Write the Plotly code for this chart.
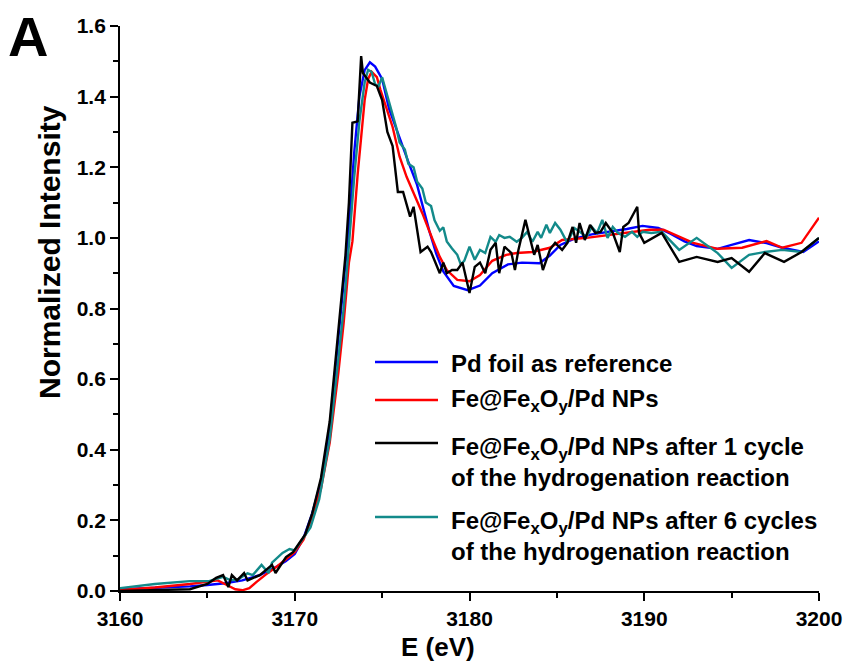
import plotly.graph_objects as go

# ---------------- data ----------------
pd_foil_E = [3160, 3162, 3164, 3165, 3166, 3167, 3168, 3169, 3169.5, 3170, 3170.5, 3171, 3171.5, 3172,
             3172.5, 3172.8, 3173.1, 3173.4, 3173.7, 3174.0, 3174.3, 3174.6, 3175.0, 3175.4, 3176.0,
             3176.5, 3177.0, 3177.3, 3177.7, 3178.1, 3178.5, 3179.1, 3179.9, 3180.6, 3181.3, 3182.2,
             3183.0, 3184.0, 3184.6, 3185.2, 3186.0, 3187.0, 3188.0, 3189.0, 3189.9, 3190.8, 3191.5,
             3192.3, 3193.0, 3194.2, 3195.0, 3196.0, 3197.0, 3197.9, 3199.1, 3200]
pd_foil_I = [0.005, 0.008, 0.013, 0.017, 0.022, 0.030, 0.045, 0.070, 0.085, 0.105, 0.150, 0.220, 0.310, 0.460,
             0.710, 0.860, 1.030, 1.240, 1.400, 1.475, 1.497, 1.485, 1.450, 1.365, 1.280,
             1.215, 1.150, 1.095, 1.020, 0.955, 0.905, 0.864, 0.852, 0.865, 0.900, 0.925,
             0.930, 0.928, 0.950, 0.980, 0.998, 1.010, 1.017, 1.025, 1.034, 1.028, 1.012,
             0.990, 0.977, 0.969, 0.980, 0.994, 0.985, 0.972, 0.960, 0.990]

nps_E = [3160, 3162, 3164, 3165, 3165.6, 3166.2, 3166.6, 3167.0, 3167.4, 3167.8, 3168.3, 3169, 3169.5, 3170,
         3170.5, 3171, 3171.5, 3172, 3172.5, 3172.8, 3173.1, 3173.3, 3173.6, 3173.8, 3174.0, 3174.2,
         3174.4, 3174.7, 3174.9, 3175.6, 3176.0, 3176.4, 3176.8, 3177.3, 3177.9, 3178.3, 3178.7,
         3179.3, 3180.0, 3180.6, 3181.3, 3182.1, 3182.7, 3183.6, 3184.6, 3185.3, 3186.7, 3188.0,
         3189.3, 3190.3, 3191.1, 3192.0, 3192.8, 3194.2, 3195.6, 3197.0, 3197.9, 3199.0, 3200]
nps_I = [0.003, 0.010, 0.020, 0.026, 0.030, 0.015, 0.005, 0.002, 0.008, 0.025, 0.045, 0.070, 0.090, 0.110,
         0.145, 0.210, 0.290, 0.420, 0.620, 0.760, 0.930, 0.990, 1.180, 1.290, 1.390, 1.450,
         1.470, 1.455, 1.420, 1.314, 1.230, 1.173, 1.127, 1.070, 0.994, 0.946, 0.909,
         0.881, 0.877, 0.895, 0.935, 0.952, 0.957, 0.960, 0.972, 0.994, 1.000, 1.008,
         1.017, 1.023, 1.023, 1.003, 0.986, 0.969, 0.972, 0.991, 0.972, 0.986, 1.057]

cyc1_E = [3160, 3162, 3164, 3165, 3165.5, 3165.9, 3166.2, 3166.4, 3166.7, 3167.1, 3167.3, 3168.0, 3168.7,
          3168.9, 3169.5, 3169.9, 3170.2, 3170.6, 3171, 3171.5, 3172, 3172.5, 3172.9, 3173.1, 3173.3,
          3173.6, 3173.8, 3173.9, 3174.3, 3174.7, 3175.0, 3175.3, 3175.6, 3175.9, 3176.2, 3176.6,
          3176.8, 3177.2, 3177.6, 3177.8, 3178.3, 3178.5, 3178.7, 3179.0, 3179.3, 3179.6, 3180.0,
          3180.3, 3180.6, 3180.9, 3181.2, 3181.5, 3181.7, 3182.0, 3182.4, 3182.6, 3182.8, 3183.2,
          3183.5, 3183.7, 3183.9, 3184.2, 3184.6, 3184.9, 3185.3, 3185.6, 3185.9, 3186.1, 3186.3,
          3186.6, 3186.9, 3187.2, 3187.5, 3187.8, 3188.2, 3188.6, 3188.8, 3189.1, 3189.6, 3189.7,
          3190.0, 3190.5, 3191.0, 3192.0, 3193.0, 3194.2, 3195.0, 3196.0, 3196.9, 3198.0, 3199.0, 3200]
cyc1_I = [0.000, 0.002, 0.005, 0.020, 0.037, 0.045, 0.011, 0.045, 0.030, 0.051, 0.030, 0.045, 0.074,
          0.051, 0.096, 0.110, 0.130, 0.160, 0.220, 0.320, 0.480, 0.740, 0.950, 1.100, 1.326,
          1.330, 1.515, 1.467, 1.440, 1.430, 1.390, 1.300, 1.260, 1.130, 1.130, 1.060,
          1.088, 0.960, 0.975, 0.960, 0.900, 0.930, 0.900, 0.909, 0.909, 0.930, 0.844,
          0.918, 0.930, 0.900, 0.966, 0.986, 0.900, 0.975, 0.957, 0.909, 0.966, 1.051,
          0.986, 0.952, 0.980, 0.909, 0.966, 0.986, 0.966, 0.986, 1.031, 0.986, 1.042,
          0.994, 1.037, 1.014, 1.017, 1.042, 1.014, 0.960, 1.031, 1.042, 1.088, 1.014,
          0.986, 1.000, 1.014, 0.932, 0.946, 0.932, 0.943, 0.904, 0.957, 0.932, 0.960, 1.000]

cyc6_E = [3160, 3162, 3164.0, 3165.1, 3165.9, 3166.3, 3166.7, 3167.3, 3167.6, 3168.1, 3168.5, 3168.7,
          3169.3, 3169.7, 3170.0, 3170.4, 3170.9, 3171.4, 3172.0, 3172.5, 3172.8, 3173.1, 3173.4,
          3173.7, 3174.0, 3174.2, 3174.4, 3174.6, 3174.8, 3175.0, 3175.2, 3175.4, 3175.8, 3176.0,
          3176.3, 3176.5, 3176.8, 3177.0, 3177.3, 3177.5, 3177.8, 3178.0, 3178.3, 3178.5, 3178.7,
          3179.0, 3179.3, 3179.5, 3179.7, 3180.0, 3180.3, 3180.6, 3180.9, 3181.2, 3181.5, 3181.7,
          3182.0, 3182.3, 3182.7, 3183.0, 3183.3, 3183.6, 3183.9, 3184.1, 3184.4, 3184.6, 3184.9,
          3185.2, 3185.5, 3185.6, 3186.0, 3186.4, 3186.7, 3187.0, 3187.3, 3187.6, 3187.9, 3188.2,
          3188.5, 3188.9, 3189.3, 3189.6, 3189.9, 3190.4, 3191.0, 3192.0, 3193.0, 3194.2, 3195.0,
          3196.0, 3196.9, 3197.9, 3199.0, 3200]
cyc6_I = [0.008, 0.020, 0.028, 0.028, 0.040, 0.031, 0.031, 0.050, 0.045, 0.074, 0.051, 0.080,
          0.108, 0.119, 0.115, 0.144, 0.180, 0.260, 0.430, 0.660, 0.800, 0.980, 1.170,
          1.330, 1.440, 1.476, 1.470, 1.435, 1.430, 1.455, 1.420, 1.380, 1.314, 1.270,
          1.250, 1.210, 1.200, 1.160, 1.140, 1.100, 1.090, 1.050, 1.020, 1.030, 0.990,
          0.970, 0.952, 0.925, 0.935, 0.975, 0.938, 0.966, 0.957, 1.003, 0.989, 1.008,
          1.000, 1.003, 0.989, 1.000, 1.017, 0.989, 1.017, 1.000, 1.037, 1.014, 1.042,
          1.023, 0.994, 0.986, 1.028, 1.014, 1.003, 1.031, 1.014, 1.051, 1.000, 1.031,
          1.014, 1.003, 1.017, 1.003, 1.017, 1.014, 1.017, 0.966, 1.000, 0.957, 0.915,
          0.952, 0.960, 0.966, 0.960, 1.000]

series_names = [
    "Pd foil as reference",
    "Fe@Fe<sub>x</sub>O<sub>y</sub>/Pd NPs",
    "Fe@Fe<sub>x</sub>O<sub>y</sub>/Pd NPs after 1 cycle<br>of the hydrogenation reaction",
    "Fe@Fe<sub>x</sub>O<sub>y</sub>/Pd NPs after 6 cycles<br>of the hydrogenation reaction",
]
series_colors = ["#0000ff", "#ff0000", "#000000", "#138a8a"]
x_ticks = [3160, 3170, 3180, 3190, 3200]
y_ticks = [0.0, 0.2, 0.4, 0.6, 0.8, 1.0, 1.2, 1.4, 1.6]

# ---------------- figure ----------------
W, H = 857, 664
L, R, T, B = 120, 38, 26, 73
FONT = "Liberation Sans, Arial, sans-serif"

fig = go.Figure()
datasets = [(pd_foil_E, pd_foil_I), (nps_E, nps_I), (cyc1_E, cyc1_I), (cyc6_E, cyc6_I)]
for i in [0, 1, 3, 2]:
    xs, ys = datasets[i]
    fig.add_trace(go.Scatter(x=xs, y=ys, mode="lines", name=series_names[i],
                             line=dict(color=series_colors[i], width=2.4), showlegend=False))

pw, ph = W - L - R, H - T - B
def px(xp):
    return (xp - L) / pw
def py(yp):
    return (H - B - yp) / ph

annotations = []
shapes = []
# manual legend
legend_rows = [(362, [362]), (400, [400]), (443, [443, 478]), (517, [517, 552])]
for i, (ly, rows) in enumerate(legend_rows):
    shapes.append(dict(type="line", xref="paper", yref="paper", x0=px(375), x1=px(438),
                       y0=py(ly), y1=py(ly), line=dict(color=series_colors[i], width=2.4)))
    annotations.append(dict(xref="paper", yref="paper", x=px(449), y=py((rows[0] + rows[-1]) / 2 + 1),
                            xanchor="left", yanchor="middle", align="left", showarrow=False,
                            text="<b>" + series_names[i] + "</b>",
                            font=dict(family=FONT, size=24, color="black")))

annotations.append(dict(xref="paper", yref="paper", x=px(6), y=py(37), xanchor="left", yanchor="middle",
                        showarrow=False, text="<b>A</b>", font=dict(family=FONT, size=56, color="black")))
annotations.append(dict(xref="paper", yref="paper", x=px(49), y=py(252), xanchor="center", yanchor="middle",
                        textangle=-90, showarrow=False, text="<b>Normalized Intensity</b>",
                        font=dict(family=FONT, size=30, color="black")))
annotations.append(dict(xref="paper", yref="paper", x=px(438), y=py(647), xanchor="center", yanchor="middle",
                        showarrow=False, text="<b>E (eV)</b>", font=dict(family=FONT, size=26, color="black")))

axis_common = dict(showline=True, linecolor="black", linewidth=1.8, ticks="outside", ticklen=8,
                   tickwidth=1.5, tickcolor="black", showgrid=False, zeroline=False, mirror=False,
                   tickfont=dict(family=FONT, size=21, color="black"))
fig.update_layout(
    width=W, height=H, margin=dict(l=L, r=R, t=T, b=B),
    paper_bgcolor="white", plot_bgcolor="white",
    annotations=annotations, shapes=shapes, showlegend=False,
    xaxis=dict(range=[3160, 3200], tickvals=x_ticks, ticktext=[f"<b>{v}</b>" for v in x_ticks],
               minor=dict(ticks="outside", ticklen=5, tickwidth=1.5, tickcolor="black", dtick=5, tick0=3160),
               **axis_common),
    yaxis=dict(range=[0, 1.6], tickvals=y_ticks, ticktext=[f"<b>{v:.1f}</b>" for v in y_ticks],
               minor=dict(ticks="outside", ticklen=5, tickwidth=1.5, tickcolor="black", dtick=0.1, tick0=0),
               **axis_common),
)
fig.write_html("out.html")
